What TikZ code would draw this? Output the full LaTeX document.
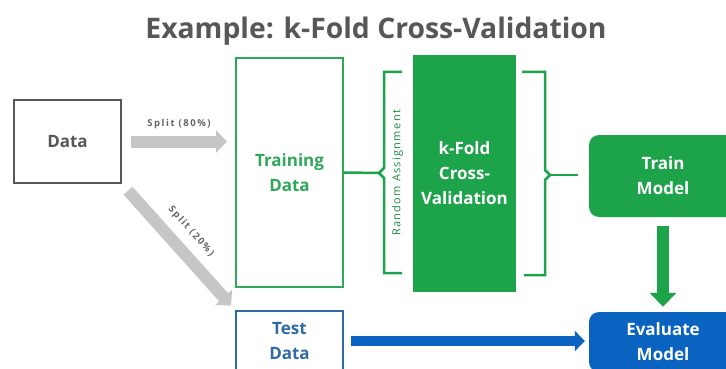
\documentclass[tikz,border=0pt]{standalone}
\usepackage{fontspec}
\setmainfont{Open Sans}
\usetikzlibrary{arrows.meta,calc}
\definecolor{tgray}{HTML}{575757}
\definecolor{lblgray}{HTML}{666666}
\definecolor{agray}{HTML}{C6C6C6}
\definecolor{kgreen}{HTML}{1DA34A}
\definecolor{lgreen}{HTML}{2FA85A}
\definecolor{eblue}{HTML}{0B63C1}
\definecolor{tblue}{HTML}{2F6AA5}
\begin{document}
\begin{tikzpicture}[x=1pt,y=-1pt,
  boxtxt/.style={align=center, inner sep=0pt, font=\bfseries\fontsize{17}{25}\selectfont},
  outbox/.style={boxtxt, draw, line width=2pt, minimum width=107pt},
  fillbox/.style={boxtxt, text=white},
  grayarrow/.style={draw=agray, line width=12pt, -{Triangle[width=22pt,length=11pt]}},
  smalllbl/.style={text=lblgray, font=\bfseries\fontsize{9.5}{11}\selectfont\addfontfeature{LetterSpace=16}, inner sep=0pt},
  bracestyle/.style={draw=kgreen, line width=2.5pt, line join=miter},
]
\path[use as bounding box, clip] (0,0) rectangle (726,369);
\fill[white] (0,0) rectangle (726,369);

\node[text=tgray, font=\bfseries\fontsize{28.3}{32}\selectfont] (title) at (376,31) {Example: k-Fold Cross-Validation};

\node[outbox, draw=tgray, text=tgray, minimum height=83pt] (data) at (67.5,141.5) {Data};
\node[outbox, draw=lgreen, text=lgreen, minimum height=229pt] (train) at (289.5,172.5) {Training\\Data};
\node[fillbox, fill=kgreen, minimum width=103pt, minimum height=237pt] (kfold) at (464.5,173.5) {k-Fold\\Cross-\\Validation};
\node[fillbox, fill=kgreen, rounded corners=10pt, minimum width=148pt, minimum height=82pt] (tmodel) at (663,176) {Train\\Model};
\node[fillbox, fill=eblue, rounded corners=10pt, minimum width=148pt, minimum height=60pt] (emodel) at (663,342) {Evaluate\\Model};
\node[outbox, draw=tblue, text=tblue, minimum height=60pt] (test) at (289.5,341) {Test\\Data};

% split arrows
\draw[grayarrow] ([xshift=9pt]data.east) -- ([xshift=-8pt]data.east -| train.west)
  node[midway, above=7pt, smalllbl] (l80) {Split (80\%)};
\draw[grayarrow] ($(data.south east)!9pt!(test.north west)$) -- ($(test.north west)!6pt!(data.south east)$)
  node[pos=0.47, sloped, above=9pt, smalllbl] (l20) {Split (20\%)};

% left brace
\coordinate (lb) at (379,173);
\draw[bracestyle] (402,72) -- (384,72) -- (384,168) -- (lb) -- (384,178) -- (384,273) -- (402,273);
\draw[bracestyle] (train.east) -- (lb);
\node[rotate=90, text=kgreen!85!black, font=\fontsize{11}{13}\selectfont\addfontfeature{LetterSpace=12}, inner sep=0pt] (ra) at (397.5,173) {Random Assignment};

% right brace
\coordinate (rb) at (550,175);
\draw[bracestyle] (522,72) -- (545,72) -- (545,170) -- (rb) -- (545,180) -- (545,275) -- (524,275);
\draw[bracestyle, shorten >=11pt] (rb) -- (tmodel.west |- rb);

% train -> evaluate
\draw[draw=kgreen, line width=12pt, -{Triangle[width=26pt,length=14pt]}] ([yshift=-9pt]tmodel.south) -- ([yshift=5pt]emodel.north);
% test -> evaluate
\draw[draw=eblue, line width=10pt, -{Triangle[width=20pt,length=10pt]}] ([xshift=7pt]test.east) -- ([xshift=-4pt]test.east -| emodel.west);
\end{tikzpicture}
\end{document}
